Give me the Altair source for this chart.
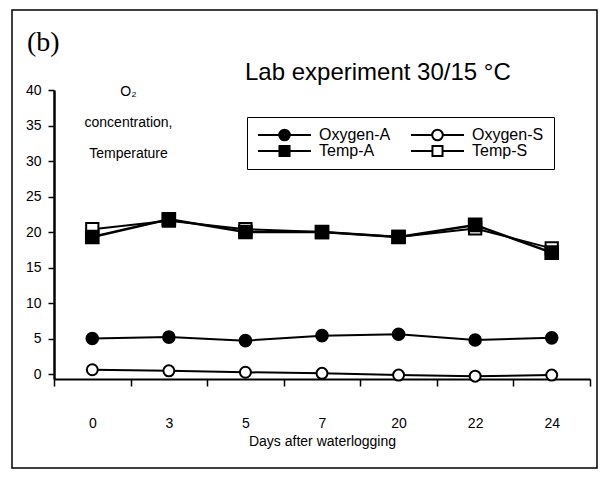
import altair as alt
import pandas as pd

days = ["0", "3", "5", "7", "20", "22", "24"]
oxygen_a = [5.0, 5.2, 4.7, 5.4, 5.6, 4.8, 5.1]
oxygen_s = [0.6, 0.45, 0.25, 0.1, -0.15, -0.3, -0.15]
temp_a = [19.3, 21.8, 20.0, 20.0, 19.3, 21.0, 17.1]
temp_s = [20.4, 21.6, 20.4, 20.0, 19.3, 20.5, 17.7]
# legend order (legend fills column by column): left column A-series, right column S-series
series_names = ["Oxygen-A", "Temp-A", "Oxygen-S", "Temp-S"]
y_ticks = [0, 5, 10, 15, 20, 25, 30, 35, 40]

rows = []
for name, vals in [("Oxygen-S", oxygen_s), ("Oxygen-A", oxygen_a),
                   ("Temp-S", temp_s), ("Temp-A", temp_a)]:
    for d, v in zip(days, vals):
        rows.append({"day": d, "value": v, "series": name})
df = pd.DataFrame(rows)

FONT = "Liberation Sans"

x_enc = alt.X(
    "day:N", sort=days,
    scale=alt.Scale(type="band", domain=days, paddingInner=0, paddingOuter=0),
    axis=alt.Axis(title="Days after waterlogging", labelAngle=0, tickBand="extent",
                  tickSize=7, tickWidth=1.5, tickColor="black",
                  domainWidth=2, domainColor="black",
                  labelPadding=30, labelFont=FONT, labelFontSize=14, labelColor="black",
                  titleFont=FONT, titleFontSize=14, titleFontWeight="normal",
                  titleColor="black", titlePadding=4),
)
y_enc = alt.Y(
    "value:Q",
    scale=alt.Scale(domain=[-0.7, 40], nice=False, zero=False),
    axis=alt.Axis(values=y_ticks, grid=False,
                  title=["O₂", "concentration,", "Temperature"],
                  titleAngle=0, titleX=74, titleY=5, titleAlign="center",
                  titleBaseline="alphabetic", titleLineHeight=31,
                  titleFont=FONT, titleFontSize=14, titleFontWeight="normal",
                  titleColor="black",
                  tickSize=6, tickWidth=1.5, tickColor="black",
                  domainWidth=2.5, domainColor="black",
                  labelPadding=7, labelFont=FONT, labelFontSize=14, labelColor="black"),
)

line_layers = []
for s, w in [("Oxygen-S", 2), ("Oxygen-A", 2), ("Temp-S", 2), ("Temp-A", 2.5)]:
    line_layers.append(
        alt.Chart(df).transform_filter(alt.datum.series == s)
        .mark_line(color="black", strokeWidth=w)
        .encode(x=x_enc, y=y_enc)
    )

marker_style = {
    "Oxygen-S": ("circle", "white", 120),
    "Oxygen-A": ("circle", "black", 135),
    "Temp-S": ("square", "white", 150),
    "Temp-A": ("square", "black", 160),
}
point_layers = []
for s in ["Oxygen-S", "Oxygen-A", "Temp-S", "Temp-A"]:
    shp, fc, sz = marker_style[s]
    point_layers.append(
        alt.Chart(df).transform_filter(alt.datum.series == s).mark_point(
            shape=shp, fill=fc, stroke="black", strokeWidth=2, opacity=1, size=sz
        ).encode(x=x_enc, y=y_enc)
    )

def circ(r):
    return f"M{-r},0A{r},{r} 0 1,0 {r},0A{r},{r} 0 1,0 {-r},0"

def sq(h):
    return f"M{-h},{-h}H{h}V{h}H{-h}Z"

stubs_c = "M-1,0H-0.2M0.2,0H1"
stubs_s = "M-1,0H-0.19M0.19,0H1"
open_circle = stubs_c + circ(0.2)
filled_circle = stubs_c + "".join(circ(r) for r in [0.2, 0.14, 0.08, 0.03])
open_square = stubs_s + sq(0.19)
filled_square = stubs_s + "".join(sq(h) for h in [0.19, 0.13, 0.07, 0.02])
SYM = 2809

leg = alt.Legend(orient="none", legendX=193, legendY=27,
                 columns=2, columnPadding=19, rowPadding=0, clipHeight=16,
                 padding=10, strokeColor="black", fillColor="white",
                 labelFont=FONT, labelFontSize=16, labelColor="black",
                 labelOffset=7, labelLimit=200, symbolSize=SYM,
                 symbolStrokeColor="black", symbolStrokeWidth=2)

legend_layer = alt.Chart(df).mark_point(stroke="black", strokeWidth=2, opacity=0, size=SYM).encode(
    x=x_enc, y=y_enc,
    shape=alt.Shape("series:N", title="",
                    scale=alt.Scale(domain=series_names,
                                    range=[filled_circle, filled_square, open_circle, open_square]),
                    legend=leg),
)

one = alt.Data(values=[{}])
label_b = alt.Chart(one).mark_text(
    text="(b)", font="Liberation Serif", fontSize=28, align="left",
    baseline="alphabetic", color="black"
).encode(x=alt.value(-27), y=alt.value(-39))

title_txt = alt.Chart(one).mark_text(
    text="Lab experiment 30/15 °C", font=FONT, fontSize=24, align="left",
    baseline="alphabetic", color="black"
).encode(x=alt.value(191), y=alt.value(-10))

frame = alt.Chart(one).mark_rect(
    fillOpacity=0, stroke="black", strokeWidth=1.5
).encode(x=alt.value(-42), x2=alt.value(543), y=alt.value(-80), y2=alt.value(378))

chart = alt.layer(frame, *line_layers, *point_layers, legend_layer, label_b, title_txt).properties(
    width=536, height=289,
    autosize=alt.AutoSizeParams(type="none"),
    padding={"left": 46, "top": 82, "right": 12, "bottom": 90},
    background="white",
).configure_view(stroke=None)

chart.save("out.html", embed_options={"renderer": "svg", "actions": False})
